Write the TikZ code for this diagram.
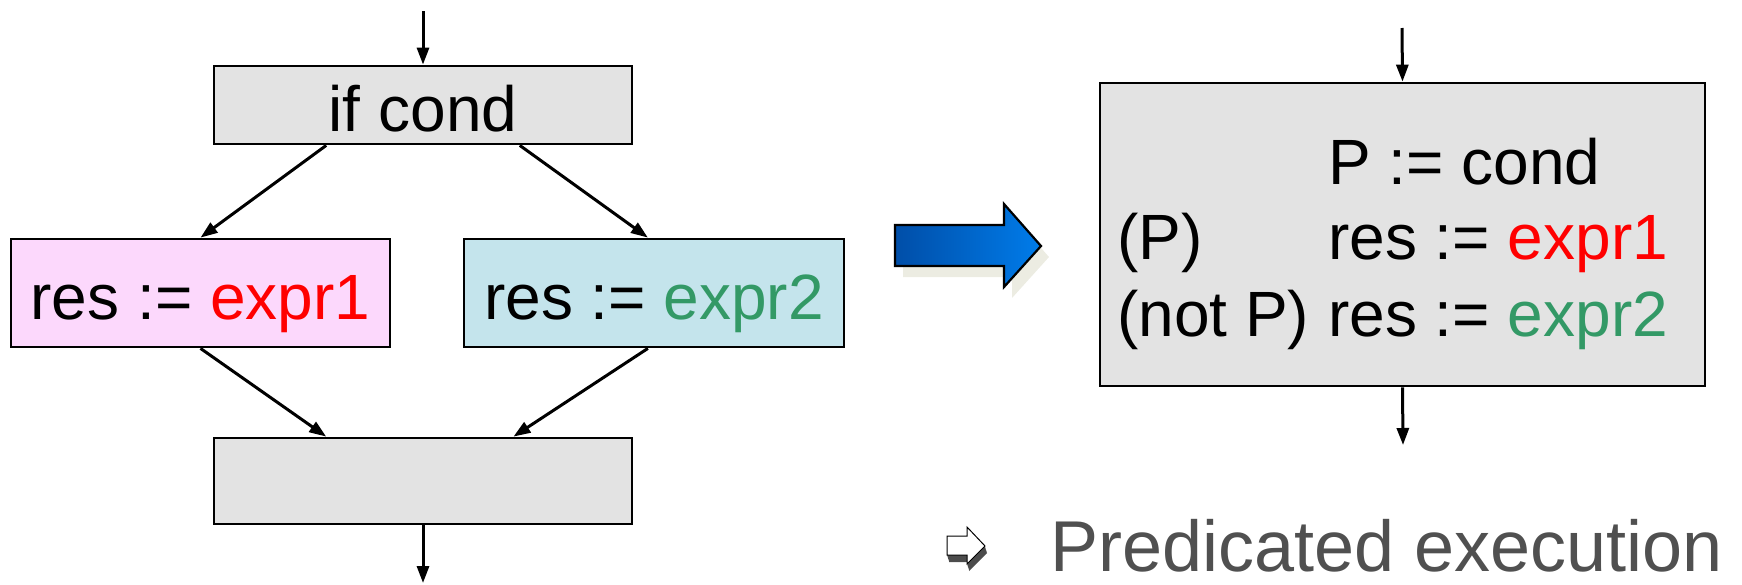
\documentclass[tikz,border=0pt]{standalone}
\usepackage{fontspec}
\setmainfont{Liberation Sans}
\usetikzlibrary{arrows.meta,calc}
\definecolor{boxgray}{RGB}{227,227,227}
\definecolor{boxpink}{RGB}{252,216,252}
\definecolor{boxblue}{RGB}{196,228,236}
\definecolor{exprred}{RGB}{255,0,0}
\definecolor{exprgreen}{RGB}{51,153,102}
\definecolor{captiongray}{RGB}{80,80,80}
\definecolor{arrowdark}{RGB}{0,78,168}
\definecolor{arrowlight}{RGB}{0,124,234}
\definecolor{shadowbeige}{RGB}{236,236,226}
\begin{document}
\begin{tikzpicture}[x=1pt,y=-1pt,
  flow/.style={line width=3pt, -{Triangle[length=17pt,width=12pt]}},
  blockbox/.style={draw=black, line width=2.8pt, inner sep=0pt,
    text height=53pt, text depth=0pt, font=\fontsize{64}{77}\selectfont},
  codeline/.style={anchor=base west, inner sep=0pt, font=\fontsize{64}{77}\selectfont}]

\useasboundingbox (0,0) rectangle (1742,584);

% ---- branching control flow ----
\node[blockbox, fill=boxgray, minimum width=418, minimum height=78] (ifc) at (423,105) {if cond};
\node[blockbox, fill=boxpink, minimum width=379, minimum height=108] (thn) at (200.5,293)
  {res := \textcolor{exprred}{expr1}};
\node[blockbox, fill=boxblue, minimum width=380, minimum height=108] (els) at (654,293)
  {res := \textcolor{exprgreen}{expr2}};
\node[blockbox, fill=boxgray, minimum width=418, minimum height=86] (join) at (423,481) {};

\coordinate (inL) at (423,11);
\coordinate (outL) at (423,583);
\draw[flow] (inL) -- (ifc.north);
\draw[flow] ($(ifc.south west)!0.27!(ifc.south east)$) -- (thn.north);
\draw[flow] ($(ifc.south west)!0.73!(ifc.south east)$) -- ($(els.north west)!0.484!(els.north east)$);
\draw[flow] (thn.south) -- ($(join.north west)!0.27!(join.north east)$);
\draw[flow] ($(els.south west)!0.484!(els.south east)$) -- ($(join.north west)!0.715!(join.north east)$);
\draw[flow] (join.south) -- (outL);

% ---- transformation arrow ----
\fill[shadowbeige] (903,236) -- (1012,236) -- (1012,215) -- (1049,257) -- (1012,298)
  -- (1012,277) -- (903,277) -- cycle;
\path[draw=black, line width=2.2pt, left color=arrowdark, right color=arrowlight]
  (895,225) -- (1004,225) -- (1004,204) -- (1041,246) -- (1004,287)
  -- (1004,266) -- (895,266) -- cycle;

% ---- predicated block ----
\node[draw=black, line width=2.8pt, fill=boxgray, minimum width=605, minimum height=303,
  inner sep=0pt] (pbox) at (1402.5,234.5) {};
\coordinate (inR) at (1402,28);
\coordinate (outR) at (1403,445);
\draw[flow] (inR) -- (pbox.north);
\draw[flow] (pbox.south) -- (outR);

\node[codeline] (pdef) at (1328,184) {P := cond};
\node[codeline] (ptag) at (1117,259) {(P)};
\node[codeline] (pres) at (1328,259) {res := \textcolor{exprred}{expr1}};
\node[codeline] (ntag) at (1117,336) {(not P)};
\node[codeline] (nres) at (1328,336) {res := \textcolor{exprgreen}{expr2}};

% ---- caption with bullet ----
\foreach \d in {1,...,7}
  \fill[black!70, shift={(0.3*\d,\d)}] (947,536) -- (967,536) -- (967,527) -- (985,546)
    -- (967,564) -- (967,555) -- (947,555) -- cycle;
\draw[fill=white, line width=1pt] (947,536) -- (967,536) -- (967,527) -- (985,546)
  -- (967,564) -- (967,555) -- (947,555) -- cycle;
\node[anchor=base west, inner sep=0pt, text=captiongray, font=\fontsize{72}{86}\selectfont]
  (caption) at (1050,571) {Predicated execution};
\end{tikzpicture}
\end{document}
